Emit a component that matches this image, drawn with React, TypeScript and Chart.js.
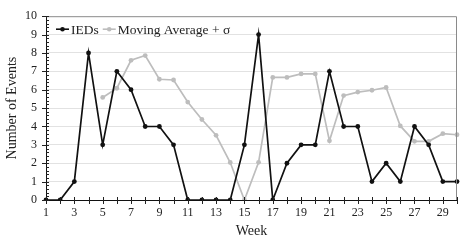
import React, { useEffect, useRef } from "react";
import { Chart, registerables } from "chart.js";

Chart.register(...registerables);

const weeks: string[] = Array.from({ length: 30 }, (_, i) => String(i + 1));
const ieds: number[] = [0, 0, 1, 8, 3, 7, 6, 4, 4, 3, 0, 0, 0, 0, 3, 9, 0, 2, 3, 3, 7, 4, 4, 1, 2, 1, 4, 3, 1, 1];
const movingAvg: (number | null)[] = [null, null, null, null, 5.58, 6.08, 7.6, 7.86, 6.57, 6.53, 5.33, 4.38, 3.52, 2.04, 0, 2.05, 6.67, 6.67, 6.86, 6.86, 3.22, 5.68, 5.87, 5.97, 6.12, 4.03, 3.19, 3.19, 3.61, 3.55];
const yTicks: number[] = [0, 1, 2, 3, 4, 5, 6, 7, 8, 9, 10];

const SERIF = "'Liberation Serif', 'DejaVu Serif', serif";

const decorPlugin = {
  id: "decor",
  afterDatasetsDraw(chart: any) {
    const ctx = chart.ctx;
    const { left, right, top, bottom } = chart.chartArea;
    const xs = chart.scales.x;
    const ys = chart.scales.y;
    ctx.save();
    // top/right frame
    ctx.strokeStyle = "#8a8a8a";
    ctx.lineWidth = 1;
    ctx.beginPath();
    ctx.moveTo(left, top + 0.5);
    ctx.lineTo(right - 0.5, top + 0.5);
    ctx.lineTo(right - 0.5, bottom);
    ctx.stroke();
    // ticks
    ctx.strokeStyle = "#222";
    ctx.beginPath();
    for (let i = 0; i < weeks.length; i++) {
      const px = Math.round(xs.getPixelForValue(i)) + 0.5;
      ctx.moveTo(px, bottom - 3);
      ctx.lineTo(px, bottom + 4);
    }
    for (const v of yTicks) {
      const py = Math.round(ys.getPixelForValue(v)) + 0.5;
      ctx.moveTo(left - 4, py);
      ctx.lineTo(left, py);
    }
    for (let k = 0; k <= 50; k++) {
      const py = Math.round(ys.getPixelForValue(k / 5)) + 0.5;
      ctx.moveTo(left, py);
      ctx.lineTo(left + 3, py);
    }
    ctx.stroke();
    // legend
    const ly = top + 13;
    let lx = left + 10;
    ctx.font = "13.5px " + SERIF;
    ctx.textBaseline = "middle";
    chart.data.datasets.forEach((ds: any) => {
      ctx.strokeStyle = ds.borderColor;
      ctx.fillStyle = ds.borderColor;
      ctx.lineWidth = 1.6;
      ctx.beginPath();
      ctx.moveTo(lx, ly);
      ctx.lineTo(lx + 13, ly);
      ctx.stroke();
      ctx.beginPath();
      ctx.arc(lx + 6.5, ly, 2.3, 0, Math.PI * 2);
      ctx.fill();
      lx += 15;
      ctx.fillStyle = "#222";
      ctx.fillText(ds.label, lx, ly + 1);
      lx += ctx.measureText(ds.label).width + 4;
    });
    ctx.restore();
  },
};

export default function App() {
  const ref = useRef<HTMLCanvasElement | null>(null);
  useEffect(() => {
    if (!ref.current) return;
    const chart = new Chart(ref.current, {
      type: "line",
      data: {
        labels: weeks,
        datasets: [
          {
            label: "IEDs",
            data: ieds,
            borderColor: "#111",
            backgroundColor: "#111",
            borderWidth: 1.7,
            pointRadius: 2.4,
            pointBorderWidth: 0,
            tension: 0,
          },
          {
            label: "Moving Average + σ",
            data: movingAvg,
            borderColor: "#bdbdbd",
            backgroundColor: "#bdbdbd",
            borderWidth: 1.7,
            pointRadius: 2.4,
            pointBorderWidth: 0,
            tension: 0,
            spanGaps: false,
          },
        ],
      },
      options: {
        animation: false,
        responsive: false,
        maintainAspectRatio: false,
        layout: { padding: { top: 8, right: 4, left: 0, bottom: 0 } },
        plugins: { legend: { display: false }, tooltip: { enabled: false } },
        scales: {
          x: {
            type: "category",
            offset: false,
            afterFit: (s: any) => { s.height = 42; },
            grid: { display: false, drawTicks: false },
            border: { display: true, color: "#111", width: 1 },
            ticks: {
              autoSkip: false,
              maxRotation: 0,
              padding: 6,
              color: "#222",
              font: { family: SERIF, size: 12 },
              callback: (_v: any, i: number) => (i % 2 === 0 ? weeks[i] : ""),
            },
            title: {
              display: true,
              text: "Week",
              color: "#222",
              font: { family: SERIF, size: 14 },
              padding: { top: 0, bottom: 2 },
            },
          },
          y: {
            min: 0,
            max: 10,
            afterFit: (s: any) => { s.width = 46; },
            grid: {
              drawTicks: false,
              color: (c: any) => (c.tick && (c.tick.value === 0 || c.tick.value === 10) ? "rgba(0,0,0,0)" : "#e2e2e2"),
            },
            border: { display: true, color: "#111", width: 1 },
            ticks: {
              stepSize: 1,
              padding: 9,
              color: "#222",
              font: { family: SERIF, size: 12 },
            },
            title: {
              display: true,
              text: "Number of Events",
              color: "#222",
              font: { family: SERIF, size: 14 },
              padding: { top: 4, bottom: 0 },
            },
          },
        },
      },
      plugins: [decorPlugin],
    } as any);
    return () => chart.destroy();
  }, []);
  return (
    <div style={{ position: "absolute", left: 0, top: 0, width: 463, height: 242, background: "#fff" }}>
      <canvas ref={ref} width={463} height={242} style={{ width: 463, height: 242, display: "block" }} />
    </div>
  );
}
